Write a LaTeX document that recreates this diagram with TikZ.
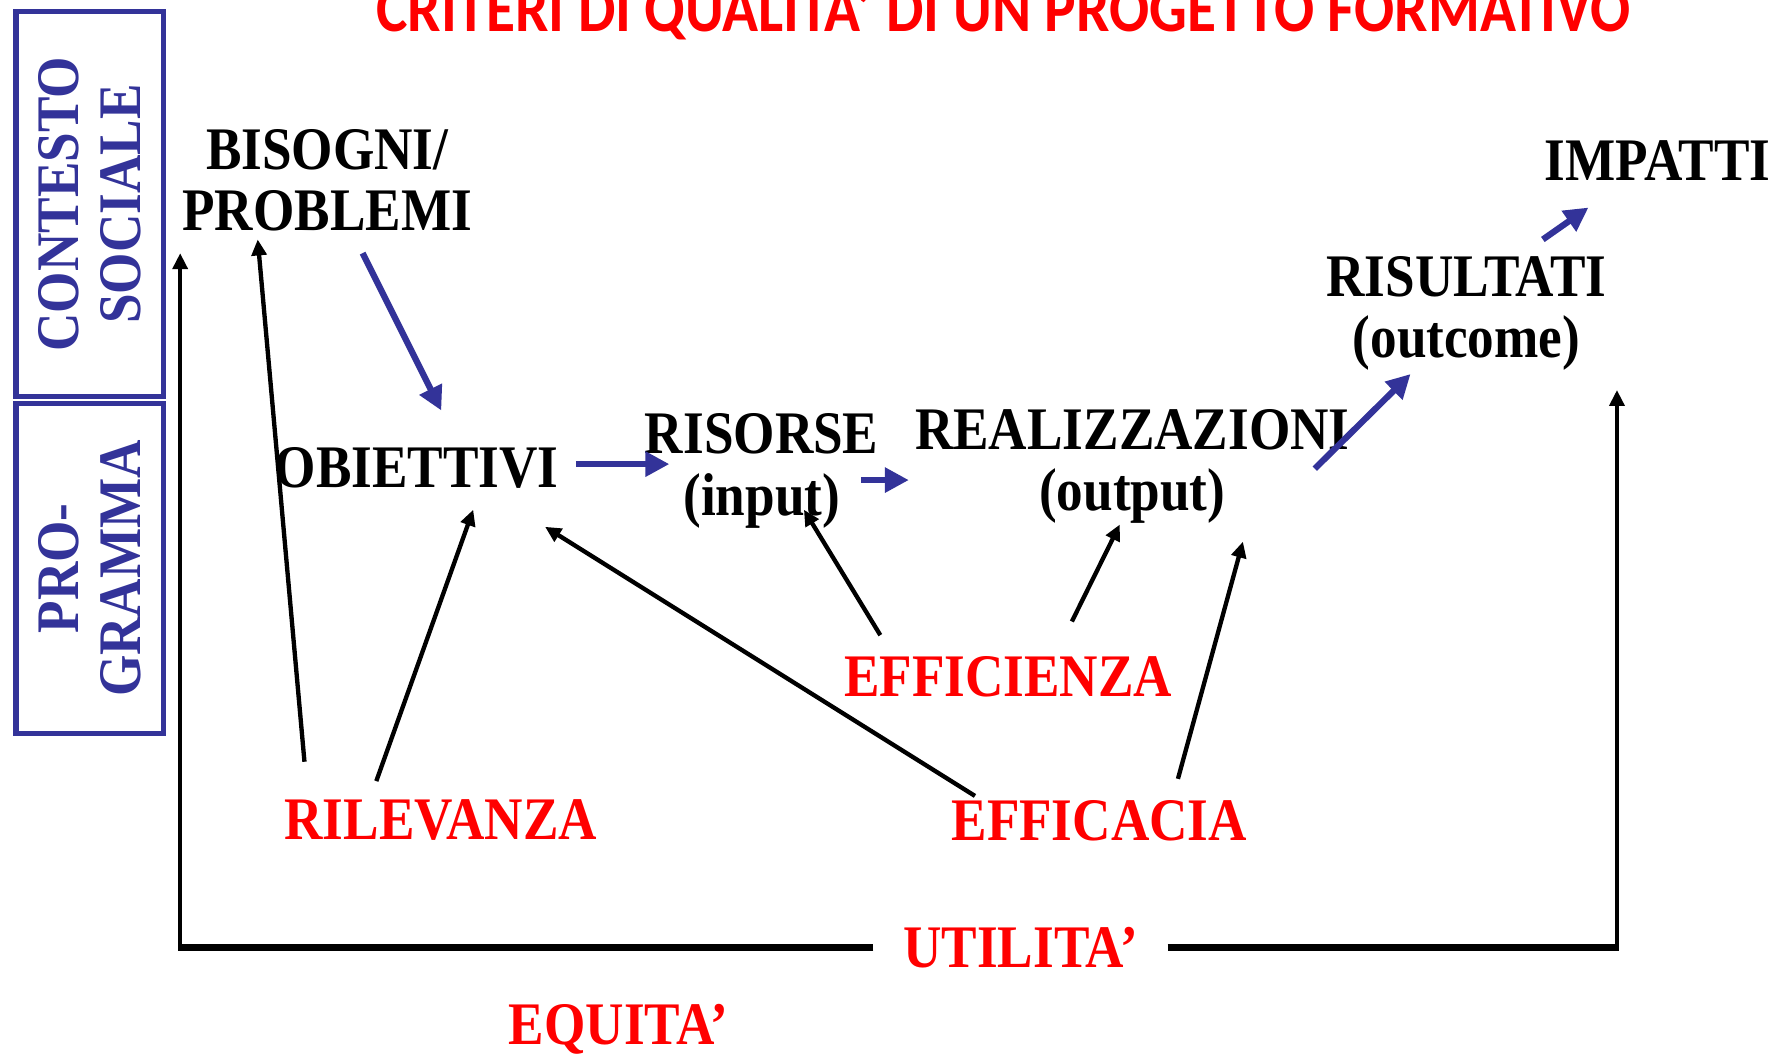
\documentclass[tikz,border=0pt]{standalone}
\usepackage{fontspec}
\setmainfont{Liberation Serif}[FakeStretch=0.88]
\newfontfamily\titlefont{Carlito}[FakeStretch=0.88]
\usetikzlibrary{arrows.meta,calc}
\definecolor{slideblue}{HTML}{333399}
\definecolor{slidered}{HTML}{FF0000}

\begin{document}
\begin{tikzpicture}[x=1pt,y=-1pt,
  lbl/.style={font=\fontsize{53}{54}\selectfont\bfseries, inner sep=0pt, align=center},
  crit/.style={lbl, text=slidered},
  side/.style={lbl, text=slideblue, draw=slideblue, line width=4.5pt, rotate=90, minimum height=129pt},
  bluarr/.style={slideblue, line width=5.5pt, -{Triangle[length=21pt,width=21pt]}},
  blkarr/.style={black, line width=3.8pt, -{Triangle[length=14pt,width=13pt]}},
  frame/.style={black, line width=5.5pt}]
\useasboundingbox (0,0) rectangle (1568,925);

% titolo, tagliato dal bordo
\node[anchor=base, inner sep=0pt, text=slidered, font=\titlefont\fontsize{59.2}{60}\selectfont\bfseries] (titolo) at (880,28) {CRITERI DI QUALITA’ DI UN PROGETTO FORMATIVO};

% riquadri laterali
\node[side, minimum width=338pt] (contesto) at (78.5,179) {CONTESTO\\SOCIALE};
\node[side, minimum width=289pt] (programma) at (78.5,498.5) {PRO-\\GRAMMA};

% catena del progetto
\node[lbl] (bisogni) at (287,158) {BISOGNI/\\PROBLEMI};
\node[lbl] (obiettivi) at (365.5,410.5) {OBIETTIVI};
\node[lbl] (risorse) at (668,413) {RISORSE\\(input)};
\node[lbl] (realizz) at (993,409) {REALIZZAZIONI\\(output)};
\node[lbl] (risultati) at (1286,275) {RISULTATI\\(outcome)};
\node[lbl] (impatti) at (1453.5,140.5) {IMPATTI};

% criteri
\node[crit] (rilevanza) at (386.5,719.5) {RILEVANZA};
\node[crit] (efficienza) at (884,593.5) {EFFICIENZA};
\node[crit] (efficacia) at (964,719.5) {EFFICACIA};
\node[crit, inner xsep=26pt] (utilita) at (895,831) {UTILITA’};
\node[crit] (equita) at (542.5,902.5) {EQUITA’};

\draw[bluarr] ($(bisogni)+(31,64)$) -- ($(obiettivi)+(21.5,-50.5)$);
\draw[bluarr] ($(obiettivi)+(139.5,-3.5)$) -- ($(risorse)+(-81,-6)$);
\draw[bluarr] ($(risorse)+(87,8)$) -- ($(realizz)+(-196,12)$);
\draw[bluarr] ($(realizz)+(160,2)$) -- ($(risultati)+(-49,53)$);
\draw[bluarr] ($(risultati)+(67,-65)$) -- ($(impatti)+(-60.5,41.5)$);

\draw[blkarr] ($(rilevanza)+(-119.5,-51.5)$) -- ($(bisogni)+(-61,52)$);
\draw[blkarr] ($(rilevanza)+(-56.5,-34.5)$) -- ($(obiettivi)+(49.5,36.5)$);
\draw[blkarr] ($(efficienza)+(-112,-36.5)$) -- ($(risorse)+(37,34)$);
\draw[blkarr] ($(efficienza)+(56,-48.5)$) -- ($(realizz)+(-11,51)$);
\draw[blkarr] ($(efficacia)+(-109,-21.5)$) -- ($(obiettivi)+(112.5,51.5)$);
\draw[blkarr] ($(efficacia)+(69,-36.5)$) -- ($(realizz)+(97,66)$);

% cornice dell'utilita'
\coordinate (lcorner) at (158,831);
\coordinate (ltip) at (158,222);
\coordinate (rcorner) at (1418,831);
\coordinate (rtip) at (1418,342);
\draw[frame] (utilita.west) -- (lcorner);
\draw[frame] (utilita.east) -- (rcorner);
\draw[blkarr] ([yshift=-2.75pt]lcorner) -- (ltip);
\draw[blkarr] ([yshift=-2.75pt]rcorner) -- (rtip);
\end{tikzpicture}
\end{document}
